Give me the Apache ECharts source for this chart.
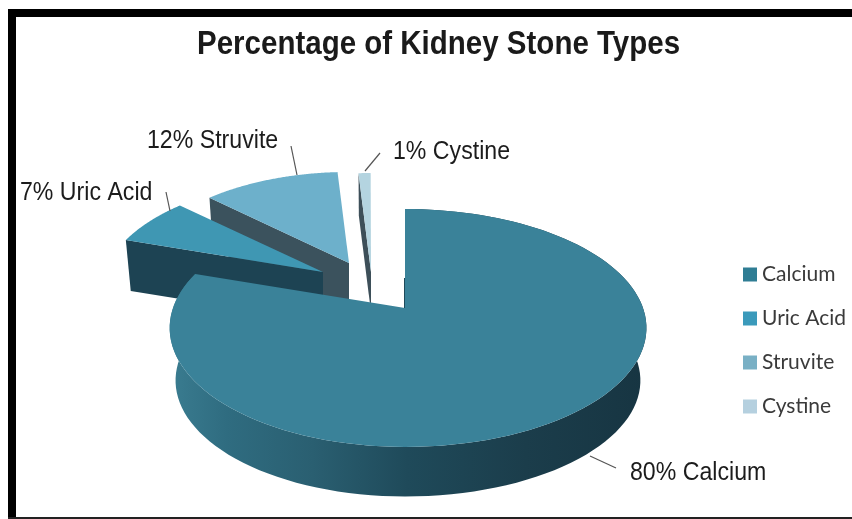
<!DOCTYPE html>
<html>
<head>
<meta charset="utf-8">
<style>
html,body{margin:0;padding:0;background:#fff;}
#chart{width:852px;height:519px;}
</style>
<script src="https://cdn.jsdelivr.net/npm/echarts@6/dist/echarts.min.js"></script>
</head>
<body>
<div id="chart"></div>
<script>
// Stone types and their share of all kidney stones, in percent
const stoneTypes = ['Calcium', 'Uric Acid', 'Struvite', 'Cystine'];
const stoneShares = [80, 7, 12, 1];
const titleText = 'Percentage of Kidney Stone Types';

// Slice colours: top face and side wall
const topColors = ['#3a8299', '#3f97b3', '#6db0cb', '#b4d4e0'];
const wallColors = ['#1f4a5a', '#1d4353', '#3b525d', '#3d4f59'];
const legendColors = ['#2f7d94', '#3b9abb', '#79b0c5', '#b5d0df'];

// Projection of the tilted disc: a slice's pivot, a radius scale and its thickness
const pivots = [[405, 308], [323, 272], [349, 263], [371, 272]];
const radiusScale = [1, 0.94, 0.92, 1];
const thickness = [53, 50, 50, 40];
const labelAnchors = [[630, 473], [20, 193], [147, 141], [393, 152]];
const leaderLines = [
  [[590, 456], [616, 468]],
  [[166, 192], [170, 211]],
  [[291, 146], [297, 175]],
  [[380, 153], [365, 171]]
];

const RX_LEFT = 232, RX_RIGHT = 238, RY = 115.6, PERSPECTIVE = 0.168;
const FLOOR_SCALE = 0.975;
const TEXT_SQUEEZE = 0.89;

// Offset from a pivot to the rim at a clockwise angle measured from twelve o'clock
function rimOffset(deg) {
  const t = deg * Math.PI / 180;
  const u = Math.sin(t), v = Math.cos(t);
  const s = 1 / (1 + PERSPECTIVE * v);
  return [(u < 0 ? RX_LEFT : RX_RIGHT) * u * s, -RY * v * s];
}

function slicePaths(i, startDeg, endDeg) {
  const [px, py] = pivots[i];
  const k = radiusScale[i], d = thickness[i];
  const rim = [];
  for (let a = startDeg; a <= endDeg + 1e-6; a += Math.max((endDeg - startDeg) / 120, 0.25)) {
    const o = rimOffset(a);
    rim.push([px + o[0] * k, py + o[1] * k]);
  }
  const floor = rim.map(p => [px + (p[0] - px) * FLOOR_SCALE, py + (p[1] - py) * FLOOR_SCALE + d]);
  const top = [[px, py]].concat(rim);
  // the rim wall for the large slice, the exposed cut face for the small ones
  const wall = i === 0
    ? rim.concat(floor.slice().reverse())
    : [[px, py], rim[0], floor[0], [px, py + d]];
  return { top, wall };
}

const total = stoneShares.reduce((a, b) => a + b, 0);
const startAngles = [];
stoneShares.reduce((acc, v, i) => { startAngles[i] = acc; return acc + v; }, 0);

function sliceRenderer(i) {
  return function (params, api) {
    const value = api.value(0);
    const start = startAngles[i] / total * 360;
    const end = start + value / total * 360;
    const { top, wall } = slicePaths(i, start, end);
    const wallFill = i === 0
      ? new echarts.graphic.LinearGradient(170, 0, 645, 0, [
          { offset: 0, color: '#3a7c90' },
          { offset: 0.12, color: '#2f6c80' },
          { offset: 0.3, color: '#2a5f71' },
          { offset: 0.5, color: '#1f4a5a' },
          { offset: 0.75, color: '#1b3d4b' },
          { offset: 1, color: '#173542' }
        ], true)
      : wallColors[i];
    const line = leaderLines[i];
    const children = [
      { type: 'polygon', shape: { points: wall }, style: { fill: wallFill } },
      { type: 'polygon', shape: { points: top }, style: { fill: topColors[i] } },
      { type: 'line', silent: true,
        shape: { x1: line[0][0], y1: line[0][1], x2: line[1][0], y2: line[1][1] },
        style: { stroke: '#555', lineWidth: 1.2 } },
      { type: 'text', silent: true,
        x: labelAnchors[i][0], y: labelAnchors[i][1], scaleX: TEXT_SQUEEZE,
        style: {
          text: value + '% ' + stoneTypes[i],
          fill: '#1c1c1c',
          font: '26px "Liberation Sans"',
          verticalAlign: 'middle'
        } }
    ];
    if (i === 0) {
      // the first cut face is almost edge-on and shows as a thin dark seam
      const [px, py] = pivots[0];
      children.push({ type: 'line', silent: true,
        shape: { x1: px - 0.5, y1: py - 30, x2: px - 0.5, y2: py },
        style: { stroke: wallColors[0], lineWidth: 1 } });
    }
    return { type: 'group', children };
  };
}

// Painted back to front so nearer slices cover the walls behind them
const paintOrder = [2, 3, 1, 0];
const series = paintOrder.map(i => ({
  type: 'custom',
  name: stoneTypes[i],
  coordinateSystem: 'none',
  itemStyle: { color: legendColors[i] },
  animation: false,
  data: [[stoneShares[i]]],
  renderItem: sliceRenderer(i)
}));

const chart = echarts.init(document.getElementById('chart'), null, { renderer: 'canvas' });
chart.setOption({
  backgroundColor: '#ffffff',
  animation: false,
  legend: {
    data: stoneTypes,
    orient: 'vertical',
    left: 738,
    top: 259,
    itemWidth: 14,
    itemHeight: 14,
    itemGap: 23,
    icon: 'rect',
    textStyle: { fontFamily: 'Lato', fontSize: 21, color: '#3a3a3a' }
  },
  graphic: [
    { type: 'rect', shape: { x: 8, y: 9, width: 844, height: 8 }, style: { fill: '#000' } },
    { type: 'rect', shape: { x: 8, y: 9, width: 8, height: 510 }, style: { fill: '#000' } },
    { type: 'rect', shape: { x: 8, y: 517, width: 844, height: 2 }, style: { fill: '#222' } },
    { type: 'text', x: 197, y: 45, scaleX: 0.894,
      style: { text: titleText, fill: '#1a1a1a', font: 'bold 33px "Liberation Sans"', verticalAlign: 'middle' } }
  ],
  series
});
</script>
</body>
</html>
